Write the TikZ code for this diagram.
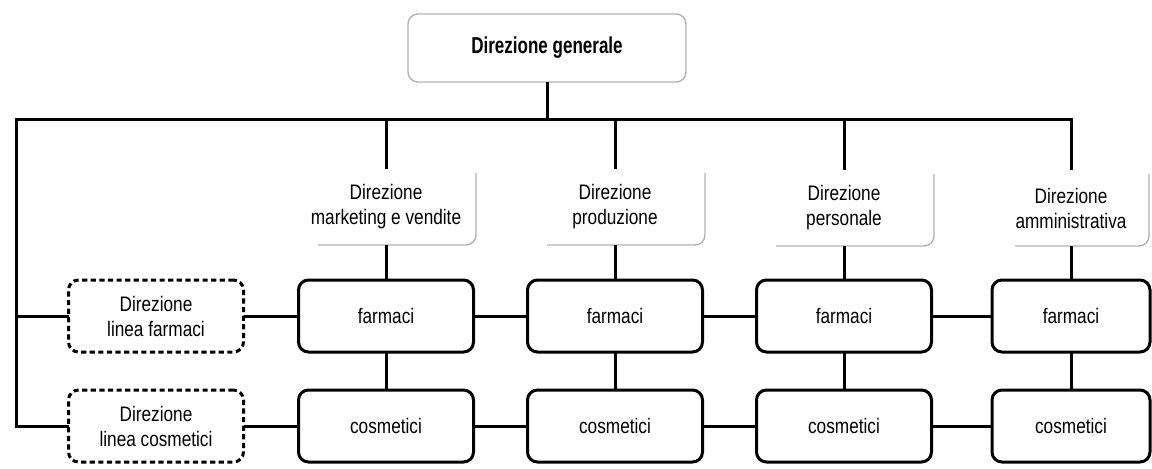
\documentclass[tikz,border=0pt]{standalone}
\usepackage{fontspec}
\setmainfont{Liberation Sans}[FakeStretch=0.82]
\newfontfamily\headfont{Liberation Sans}[FakeStretch=0.74]
\usetikzlibrary{calc}
\begin{document}
\begin{tikzpicture}[x=0.5pt,y=-0.5pt,
  every node/.style={inner sep=0pt, outer sep=0pt},
  lbl/.style={font=\fontsize{10.5}{12.5}\selectfont, align=center},
  headbox/.style={font=\headfont\bfseries\fontsize{11.5}{13}\selectfont,
    draw=black!30, line width=0.7pt, rounded corners=5pt,
    minimum width=139pt, minimum height=34pt},
  unitbox/.style={lbl, draw=black, line width=1.5pt, rounded corners=5pt,
    minimum width=87.5pt, minimum height=36pt},
  linebox/.style={unitbox, dash pattern=on 2.6pt off 1.7pt},
  dept/.style={lbl, minimum width=90pt, minimum height=38pt},
  faint/.style={draw=black!30, line width=0.7pt, rounded corners=5pt},
  conn/.style={draw=black, line width=1.5pt},
]
\useasboundingbox (0,0) rectangle (1152,468);

% top management
\node[headbox] (top) at (547,48) {Direzione generale};
\coordinate (bus) at (16,119);

% functional departments
\node[dept] (d1) at (386,207) {Direzione\\marketing e vendite};
\node[dept] (d2) at (615,207) {Direzione\\produzione};
\node[dept] (d3) at (844,208) {Direzione\\personale};
\node[dept, minimum width=78pt] (d4) at (1071,208) {Direzione\\amministrativa};
\foreach \i in {1,...,4}{
  \draw[faint] ($(d\i.south west)+(22,0)$) -- (d\i.south east)
    -- ($(d\i.north east)+(0,4)$);
}

% product line managers
\node[linebox] (lf) at (156,316) {Direzione\\linea farmaci};
\node[linebox] (lc) at (156,426) {Direzione\\linea cosmetici};

% matrix cells
\node[unitbox] (f1) at (386,316) {farmaci};
\node[unitbox] (f2) at (615,316) {farmaci};
\node[unitbox] (f3) at (844,316) {farmaci};
\node[unitbox, minimum width=79pt] (f4) at (1071,316) {farmaci};
\node[unitbox] (c1) at (386,426) {cosmetici};
\node[unitbox] (c2) at (615,426) {cosmetici};
\node[unitbox] (c3) at (844,426) {cosmetici};
\node[unitbox, minimum width=79pt] (c4) at (1071,426) {cosmetici};

% hierarchy lines
\draw[conn] (top.south) -- (top.south |- bus);
\draw[conn] (lc.west) -| (bus) -| (d4.north);
\draw[conn] (lf.west) -- (lf.west -| bus);
\foreach \i in {1,2,3}{
  \draw[conn] (d\i.north) -- (d\i.north |- bus);
}
\foreach \i in {1,...,4}{
  \draw[conn] (d\i.south) -- (f\i.north);
  \draw[conn] (f\i.south) -- (c\i.north);
}

% product rows
\draw[conn] (lf.east) -- (f1.west);
\draw[conn] (f1.east) -- (f2.west);
\draw[conn] (f2.east) -- (f3.west);
\draw[conn] (f3.east) -- (f4.west);
\draw[conn] (lc.east) -- (c1.west);
\draw[conn] (c1.east) -- (c2.west);
\draw[conn] (c2.east) -- (c3.west);
\draw[conn] (c3.east) -- (c4.west);
\end{tikzpicture}
\end{document}
